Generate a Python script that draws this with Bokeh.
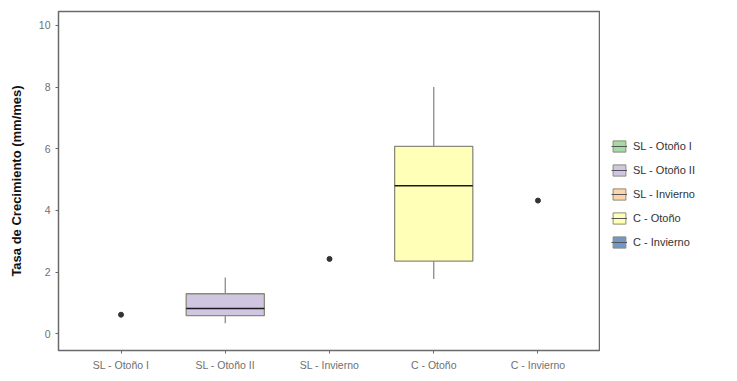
from bokeh.plotting import figure
from bokeh.layouts import row
from bokeh.models import FactorRange, Range1d, Legend, LegendItem, FixedTicker, ColumnDataSource
from bokeh.transform import dodge
from bokeh.embed import file_html
from bokeh.resources import INLINE

categories = ["SL - Otoño I", "SL - Otoño II", "SL - Invierno", "C - Otoño", "C - Invierno"]
colors = ["#7FC97F", "#BEAED4", "#FDC086", "#FFFF99", "#386CB0"]

box_cats = ["SL - Otoño II", "C - Otoño"]
box_colors = ["#BEAED4", "#FFFF99"]
q1 = [0.59, 2.36]
med = [0.82, 4.80]
q3 = [1.30, 6.08]
lo = [0.34, 1.78]
hi = [1.83, 8.00]

pt_cats = ["SL - Otoño I", "SL - Invierno", "C - Invierno"]
pt_vals = [0.62, 2.43, 4.32]

y_ticks = [0, 2, 4, 6, 8, 10]

FONT = "Liberation Sans"
ALPHA = 0.7
TOTAL_H = 373

p = figure(width=600, height=TOTAL_H, output_backend="svg", toolbar_location=None,
           x_range=FactorRange(factors=categories, range_padding=0.04),
           y_range=Range1d(-0.54, 10.45))

src = ColumnDataSource(dict(cat=box_cats, q1=q1, med=med, q3=q3, lo=lo, hi=hi, color=box_colors))

p.segment(x0="cat", x1="cat", y0="q3", y1="hi", source=src, line_color="#8c8c8c", line_width=1.3)
p.segment(x0="cat", x1="cat", y0="lo", y1="q1", source=src, line_color="#8c8c8c", line_width=1.3)
p.vbar(x="cat", width=0.75, bottom="q1", top="q3", source=src, fill_color="color",
       fill_alpha=ALPHA, line_color="#8a8a7a", line_width=1.3)
p.segment(x0=dodge("cat", -0.375, range=p.x_range), x1=dodge("cat", 0.375, range=p.x_range),
          y0="med", y1="med", source=src, line_color="#1a1a1a", line_width=1.6)

p.scatter(x=pt_cats, y=pt_vals, size=5, color="#333333")

p.xgrid.grid_line_color = None
p.ygrid.grid_line_color = None
p.outline_line_color = "#6a6a6a"
p.outline_line_width = 1.5
p.min_border_left = 58
p.min_border_top = 11
p.min_border_bottom = 10
p.min_border_right = 0

p.yaxis.ticker = FixedTicker(ticks=y_ticks)
p.yaxis.axis_label = "Tasa de Crecimiento (mm/mes)"
p.yaxis.axis_label_text_font = FONT
p.yaxis.axis_label_text_font_style = "bold"
p.yaxis.axis_label_text_font_size = "13px"
p.yaxis.axis_label_text_color = "#111111"
p.yaxis.axis_label_standoff = 12
for ax in (p.xaxis[0], p.yaxis[0]):
    ax.axis_line_color = None
    ax.major_tick_line_color = "#6a6a6a"
    ax.major_tick_out = 3
    ax.major_tick_in = 0
    ax.minor_tick_line_color = None
    ax.major_label_text_font = FONT
    ax.major_label_text_font_size = "10.5px"
    ax.major_label_text_color = "#707070"

# legend in a separate narrow figure to the right
lg = figure(width=129, height=TOTAL_H, output_backend="svg", toolbar_location=None,
            x_range=Range1d(0, 1), y_range=Range1d(0, 1), min_border=0)
lg.axis.visible = False
lg.grid.visible = False
lg.outline_line_color = None
nan = float("nan")
leg_src = ColumnDataSource(dict(x=[nan] * 5, b=[nan] * 5, t=[nan] * 5, color=colors))
items = []
for i, cat in enumerate(categories):
    r1 = lg.vbar(x="x", width=0.1, bottom="b", top="t", source=leg_src, fill_color="color",
                 fill_alpha=ALPHA, line_color="#8a8a7a", line_width=1)
    r2 = lg.segment(x0="x", x1="x", y0="b", y1="t", source=leg_src, line_color="#555555", line_width=1)
    items.append(LegendItem(label=cat, renderers=[r1, r2], index=i))
legend = Legend(items=items, location=(11, 101), border_line_color=None,
                label_text_font=FONT, label_text_font_size="11px", label_text_color="#333333",
                glyph_width=16, glyph_height=14, label_height=14, spacing=10,
                padding=4, margin=0, label_standoff=6, background_fill_alpha=0)
lg.add_layout(legend, "center")

layout = row(p, lg, spacing=0)
open("out.html", "w").write(file_html(layout, INLINE))
